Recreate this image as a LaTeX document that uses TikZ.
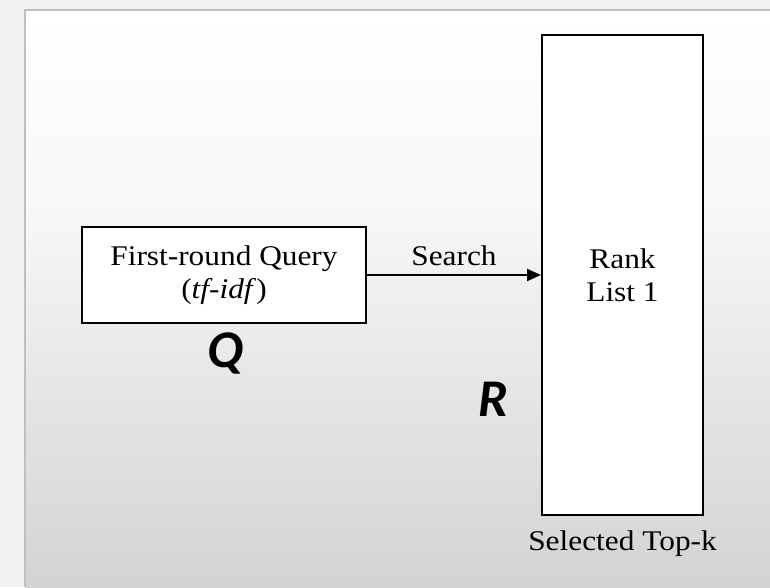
\documentclass[tikz,border=0pt]{standalone}
\usepackage{fontspec}
\setmainfont{Liberation Serif}[FakeStretch=1.1]
\newfontfamily\calib{Carlito}
\usetikzlibrary{arrows.meta,positioning}
\definecolor{outerbg}{HTML}{F1F2F4}
\definecolor{framecol}{HTML}{BFBFBF}
\definecolor{midbg}{HTML}{F8F8F8}
\definecolor{botbg}{HTML}{D3D3D3}
\tikzset{
  boxnode/.style={draw=black, line width=2pt, fill=white, align=center,
    font=\fontsize{28.5}{33}\selectfont, inner sep=0pt},
  lbl/.style={font=\fontsize{28.5}{33}\selectfont, inner sep=0pt},
  biglbl/.style={font=\calib\bfseries\itshape\fontsize{53}{55}\selectfont, inner sep=0pt},
  conn/.style={line width=2pt, -{Triangle[length=14pt,width=12pt]}}
}
\begin{document}
\begin{tikzpicture}[x=1pt,y=-1pt]
\useasboundingbox (0,0) rectangle (770,587);
% background
\fill[outerbg] (0,0) rectangle (770,587);
\shade[top color=white, bottom color=midbg] (25,10) rectangle (770,200);
\shade[top color=midbg, bottom color=botbg] (25,200) rectangle (770,587);
\draw[framecol, line width=1.5pt] (25,587) -- (25,10) -- (770,10);
% nodes
\node[boxnode, minimum width=284pt, minimum height=96pt] (q) at (224,275)
  {First-round Query\\(\textit{tf-idf})};
\node[boxnode, minimum width=161pt, minimum height=480pt] (r) at (622.5,275)
  {Rank\\List 1};
\draw[conn] (q.east) -- node[lbl, above=8pt] (s) {Search} (r.west);
\node[lbl, anchor=north] (k) at ([yshift=-15pt]r.south) {Selected Top-k};
\node[biglbl] (Q) at (225,353) {Q};
\node[biglbl] (R) at (493,399) {R};
\end{tikzpicture}
\end{document}
